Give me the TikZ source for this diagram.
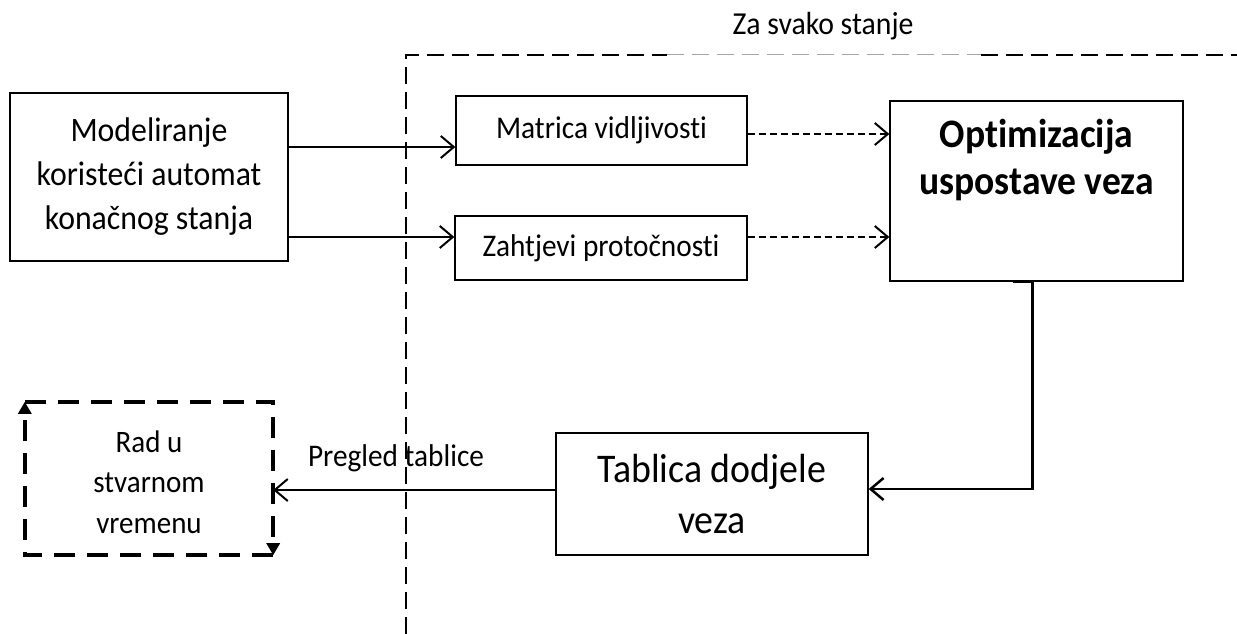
\documentclass[tikz,border=0pt]{standalone}
\usepackage{fontspec}
\setmainfont{Carlito}[Ligatures=NoCommon, FakeStretch=0.93]
\usetikzlibrary{arrows.meta}

\tikzset{
  blok/.style={draw, line width=1.3pt, align=center, inner sep=0pt},
  strelica/.style={line width=2pt, -{Straight Barb[length=13pt, width=22pt]}},
  iscrtkano/.style={line width=2pt, dash pattern=on 7pt off 4pt, -{Straight Barb[length=13pt, width=22pt]}},
  okvir/.style={line width=2.7pt, dash pattern=on 17pt off 8pt},
  radrub/.style={line width=4pt, dash pattern=on 21pt off 12pt, -{Triangle[length=12pt, width=13pt]}}
}

\begin{document}
\begin{tikzpicture}[x=1pt, y=-1pt]
\useasboundingbox (0,0) rectangle (1237,634);
% Okvir za svako stanje
\draw[okvir] (406,634) |- (667,55);
\draw[line width=1pt, gray!70, dash pattern=on 17pt off 8pt] (667,55) -- (981,55);
\draw[okvir] (981,55) -- (1237,55);
\node[font=\fontsize{32}{36}\selectfont] (zasvako) at (823,26) {Za svako stanje};
% Blokovi
\node[blok, minimum width=278, minimum height=168, font=\fontsize{34.2}{44}\selectfont] (mod) at (149,177) {Modeliranje\\koristeći automat\\konačnog stanja};
\node[blok, minimum width=291, minimum height=69, font=\fontsize{31.6}{36}\selectfont] (mat) at (601.5,130.5) {Matrica vidljivosti};
\node[blok, minimum width=292, minimum height=64, font=\fontsize{31.5}{36}\selectfont] (zah) at (601,248) {Zahtjevi protočnosti};
\node[blok, minimum width=293, minimum height=180] (opt) at (1036.5,191) {};
\node[font=\fontsize{40.4}{47}\selectfont\bfseries, align=center] (opttekst) at (1036.5,160) {Optimizacija\\uspostave veza};
\node[blok, minimum width=312, minimum height=122, font=\fontsize{40.7}{51}\selectfont] (tab) at (712,494) {Tablica dodjele\\veza};
\node[align=center, inner sep=0pt, minimum width=248, minimum height=153, font=\fontsize{31.2}{40.5}\selectfont] (rad) at (149,482) {Rad u\\stvarnom\\vremenu};
\draw[radrub] ([yshift=3.5]rad.north west) -| ([yshift=3.5]rad.south east);
\draw[radrub] ([yshift=3.5]rad.south east) -| ([yshift=3.5]rad.north west);
% Veze
\draw[strelica] ([yshift=30]mod.east) -- ([yshift=30]mod.east -| mat.west);
\draw[strelica] ([yshift=-60]mod.east) -- ([yshift=-60]mod.east -| zah.west);
\draw[iscrtkano] ([yshift=-3.5]mat.east) -- ([yshift=-3.5]mat.east -| opt.west);
\draw[iscrtkano] ([yshift=11]zah.east) -- ([yshift=11]zah.east -| opt.west);
\draw[strelica, line width=2.5pt] ([xshift=-24]opt.south) -- ([xshift=-4]opt.south) |- ([yshift=5]tab.east);
\draw[strelica] ([yshift=4]tab.west) -- ([yshift=4]tab.west -| rad.east);
\node[font=\fontsize{31.5}{36}\selectfont] (pregled) at (396,458) {Pregled tablice};
\end{tikzpicture}
\end{document}
